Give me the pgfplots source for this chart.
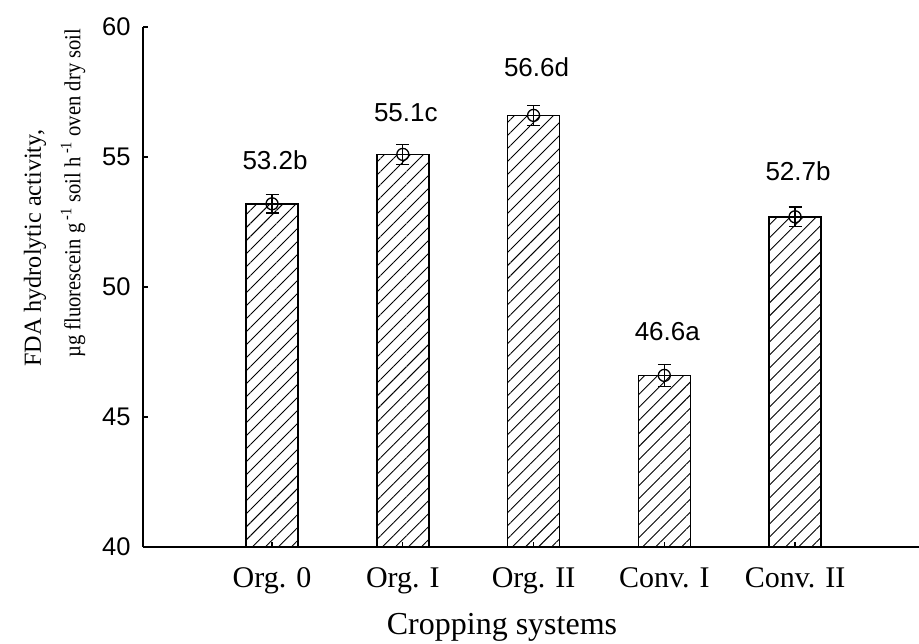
\documentclass[border=0pt]{standalone}
\usepackage{fontspec}
\setmainfont{Liberation Serif}
\newfontfamily\arial{Liberation Sans}
\usepackage{graphicx}
\usepackage{pgfplots}
\usepackage{pgfplotstable}
\pgfplotsset{compat=1.18}
\usetikzlibrary{patterns.meta}

\pgfplotstableread{
x y err
0 53.2 0.35
1 55.1 0.38
2 56.6 0.38
3 46.6 0.42
4 52.7 0.37
}\means

\pgfplotstableread{
x y label
0 54.88 53.2b
1 56.69 55.1c
2 58.46 56.6d
3 48.30 46.6a
4 54.46 52.7b
}\labels

\begin{document}
\begin{tikzpicture}
\begin{axis}[
  scale only axis, width=776pt, height=520pt,
  xmin=-0.987, xmax=4.948, ymin=40, ymax=60,
  axis lines=left, axis line style={-, line width=1.6pt},
  xtick={0,1,2,3,4},
  xticklabels={Org. 0, Org. I, Org. II, Conv. I, Conv. II},
  ytick={40,45,50,55,60},
  tick align=inside, major tick length=5pt,
  tick style={line width=1.3pt, black},
  /pgf/number format/assume math mode=true,
  yticklabel style={font=\arial\fontsize{25.5}{25.5}\selectfont, xshift=-9pt},
  xticklabel style={font=\fontsize{30}{30}\selectfont, anchor=base, yshift=-40pt},
]
\addplot[ybar, bar width=52pt, draw=black, line width=1.6pt,
  pattern={Lines[angle=45, distance=9.2pt, line width=0.9pt]}]
  table[x=x, y=y] {\means};
\addplot[only marks, mark=o, mark size=6pt,
  mark options={line width=1.3pt, black, fill=none},
  error bars/.cd, y dir=both, y explicit,
  error bar style={line width=1.3pt, black},
  error mark options={rotate=90, mark size=6.5pt, line width=1.4pt, black}]
  table[x=x, y=y, y error=err] {\means};
\addplot[draw=none, nodes near coords, point meta=explicit symbolic,
  nodes near coords style={font=\arial\fontsize{26}{26}\selectfont, anchor=center, inner sep=0pt, xshift=3pt}]
  table[x=x, y=y, meta=label] {\labels};
\end{axis}
\node[rotate=90, anchor=west, inner sep=0pt, font=\fontsize{24.5}{24.5}\selectfont]
  at ([shift={(-108pt,180pt)}]current axis.south west) {\resizebox{237pt}{\height}{FDA hydrolytic activity,}};
\node[rotate=90, anchor=west, inner sep=0pt, font=\fontsize{23}{23}\selectfont]
  at ([shift={(-70pt,189pt)}]current axis.south west) {\resizebox{329pt}{\height}{µg fluorescein g\,\textsuperscript{-1} soil h\,\textsuperscript{-1} oven dry soil}};
\node[anchor=base, inner sep=0pt, font=\fontsize{32}{32}\selectfont]
  at ([shift={(359pt,-87pt)}]current axis.south west) {Cropping systems};
\pgfresetboundingbox
\useasboundingbox ([shift={(-143pt,-96pt)}]current axis.south west) rectangle ([shift={(0pt,27pt)}]current axis.north east);
\end{tikzpicture}
\end{document}
